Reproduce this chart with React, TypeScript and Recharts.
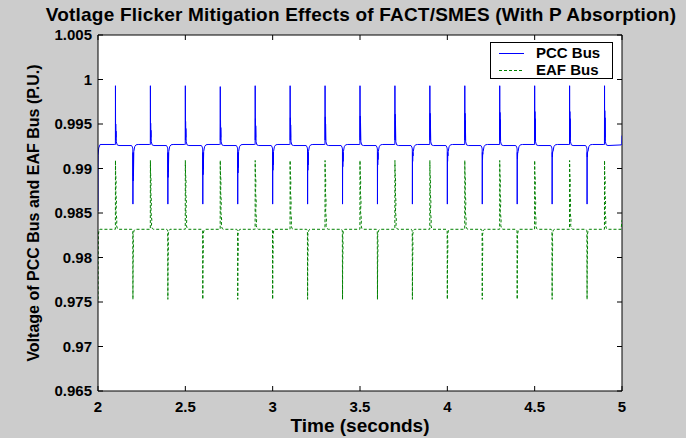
import React from 'react';
import { LineChart, Line, XAxis, YAxis, CartesianGrid, ReferenceLine, Legend } from 'recharts';

// ---------- layout ----------
const W = 686;
const H = 438;
const PLOT = { left: 98, top: 35, right: 622, bottom: 391 };
const FONT = '"Liberation Sans", Arial, Helvetica, sans-serif';

// ---------- axes ----------
const xTicks = [2, 2.5, 3, 3.5, 4, 4.5, 5];
const xTickLabels = ['2', '2.5', '3', '3.5', '4', '4.5', '5'];
const yTicks = [0.965, 0.97, 0.975, 0.98, 0.985, 0.99, 0.995, 1, 1.005];
const yTickLabels = ['0.965', '0.97', '0.975', '0.98', '0.985', '0.99', '0.995', '1', '1.005'];
const seriesNames = ['PCC Bus', 'EAF Bus'];

// ---------- data ----------
const upSpikeTimes = [2.1, 2.3, 2.5, 2.7, 2.9, 3.1, 3.3, 3.5, 3.7, 3.9, 4.1, 4.3, 4.5, 4.7, 4.9];
const downSpikeTimes = [2.2, 2.4, 2.6, 2.8, 3.0, 3.2, 3.4, 3.6, 3.8, 4.0, 4.2, 4.4, 4.6, 4.8];

// PCC bus (blue)
const pccBase = 0.9927;
const pccSag = 0.99258;
const pccStart = 0.9852;
const pccEnd = 0.9937;
const pccPeaks = [0.9993, 0.9993, 0.9993, 0.9992, 0.9993, 0.9993, 0.9993, 0.9993, 0.9993, 0.9993, 0.9993, 0.9993, 0.9993, 0.9993, 0.9993];
const pccPeakRinging = [0.995, 0.9951, 0.9953, 0.9954, 0.9956, 0.9957, 0.9958, 0.9959, 0.9961, 0.9962, 0.9962, 0.9963, 0.9964, 0.9964, 0.9965];
const pccTroughs = [0.986, 0.986, 0.986, 0.986, 0.986, 0.986, 0.986, 0.986, 0.986, 0.986, 0.986, 0.986, 0.986, 0.986];
const pccTroughRinging = [0.9886, 0.989, 0.9893, 0.9895, 0.9898, 0.9898, 0.9902, 0.9904, 0.9908, 0.9908, 0.991, 0.9911, 0.9913, 0.9913];

// EAF bus (green)
const eafBase = 0.98317;
const eafStart = 0.9753;
const eafEnd = 0.9842;
const eafPeaks = [0.9909, 0.9909, 0.9909, 0.9909, 0.9909, 0.9909, 0.9909, 0.9909, 0.9909, 0.9909, 0.9909, 0.9909, 0.9909, 0.9909, 0.9909];
const eafTroughs = [0.9753, 0.9753, 0.9753, 0.9753, 0.9753, 0.9753, 0.9753, 0.9753, 0.9753, 0.9753, 0.9753, 0.9753, 0.9753, 0.9753];

type Pt = { t: number; v: number };

function buildPcc(): Pt[] {
  const pts: Pt[] = [];
  const p = (t: number, v: number) => pts.push({ t, v });
  p(2.0, pccStart);
  p(2.0004, 0.9905);
  p(2.001, 0.9915);
  p(2.004, 0.9923);
  p(2.012, pccBase);
  upSpikeTimes.forEach((T, k) => {
    const P = pccPeaks[k];
    const R = pccPeakRinging[k];
    p(T - 0.004, pccBase);
    p(T - 0.0005, pccBase);
    p(T, P);
    p(T + 0.0008, 0.9932);
    p(T + 0.0015, R);
    p(T + 0.0025, 0.9935);
    p(T + 0.003, R - 0.0008);
    p(T + 0.005, 0.993);
    p(T + 0.01, 0.99265);
    p(T + 0.02, pccSag);
    if (k < downSpikeTimes.length) {
      const D = downSpikeTimes[k];
      const Q = pccTroughs[k];
      const R2 = pccTroughRinging[k];
      p(D - 0.008, pccSag);
      p(D - 0.003, 0.9924);
      p(D - 0.0005, 0.9922);
      p(D, Q);
      p(D + 0.0008, 0.9918);
      p(D + 0.0015, R2);
      p(D + 0.0025, 0.9917);
      p(D + 0.003, R2 + 0.0006);
      p(D + 0.005, 0.9919);
      p(D + 0.01, 0.99245);
      p(D + 0.018, 0.99266);
      p(D + 0.03, pccBase);
    }
  });
  p(4.995, 0.99265);
  p(4.999, 0.9928);
  p(5.0, pccEnd);
  return pts;
}

function buildEaf(): Pt[] {
  const pts: Pt[] = [];
  const p = (t: number, v: number) => pts.push({ t, v });
  p(2.0, eafStart);
  p(2.0008, 0.98);
  p(2.002, 0.9825);
  p(2.006, 0.9831);
  p(2.012, eafBase);
  upSpikeTimes.forEach((T, k) => {
    p(T - 0.003, eafBase);
    p(T - 0.0005, eafBase);
    p(T, eafPeaks[k]);
    p(T + 0.001, 0.9895);
    p(T + 0.004, 0.9885);
    p(T + 0.002, 0.9874);
    p(T + 0.006, 0.9862);
    p(T + 0.003, 0.9852);
    p(T + 0.008, 0.9842);
    p(T + 0.006, 0.9836);
    p(T + 0.011, 0.98325);
    p(T + 0.018, eafBase);
    if (k < downSpikeTimes.length) {
      const D = downSpikeTimes[k];
      p(D - 0.006, eafBase);
      p(D - 0.001, 0.983);
      p(D, eafTroughs[k]);
      p(D + 0.0008, 0.979);
      p(D + 0.003, 0.9815);
      p(D + 0.001, 0.9825);
      p(D + 0.006, 0.983);
      p(D + 0.012, eafBase);
    }
  });
  p(4.995, eafBase);
  p(5.0, eafEnd);
  return pts;
}

const pccData = buildPcc();
const eafData = buildEaf();

// ---------- custom ticks (MATLAB style, inward on all sides) ----------
const XTick = (props: any) => {
  const { x, payload } = props;
  const i = xTicks.indexOf(payload.value);
  return (
    <g>
      <line x1={x} x2={x} y1={PLOT.bottom} y2={PLOT.bottom - 5} stroke="#000" />
      <line x1={x} x2={x} y1={PLOT.top} y2={PLOT.top + 5} stroke="#000" />
      <text x={x} y={PLOT.bottom + 21} textAnchor="middle" fontSize={15} fontWeight="bold" fontFamily={FONT} fill="#000">
        {i >= 0 ? xTickLabels[i] : payload.value}
      </text>
    </g>
  );
};

const YTick = (props: any) => {
  const { y, payload } = props;
  const i = yTicks.findIndex((v) => Math.abs(v - payload.value) < 1e-9);
  return (
    <g>
      <line x1={PLOT.left} x2={PLOT.left + 5} y1={y} y2={y} stroke="#000" />
      <line x1={PLOT.right} x2={PLOT.right - 5} y1={y} y2={y} stroke="#000" />
      <text x={PLOT.left - 6} y={y + 5} textAnchor="end" fontSize={15} fontWeight="bold" fontFamily={FONT} fill="#000">
        {i >= 0 ? yTickLabels[i] : payload.value}
      </text>
    </g>
  );
};

const LegendBox = (props: any) => {
  const raw = props.payload || [];
  const payload = seriesNames
    .map((n) => raw.find((e: any) => e.value === n))
    .filter(Boolean);
  return (
    <div
      style={{
        width: 121,
        height: 35,
        background: '#fff',
        border: '1px solid #000',
        fontFamily: FONT,
        fontWeight: 'bold',
        fontSize: 15,
        position: 'relative',
      }}
    >
      {payload.map((e: any, i: number) => (
        <div key={i} style={{ position: 'absolute', left: 0, top: 2 + i * 17, height: 16, display: 'flex', alignItems: 'center' }}>
          <svg width={40} height={16} style={{ display: 'block' }}>
            <line
              x1={8}
              x2={33}
              y1={8.5}
              y2={8.5}
              stroke={e.color}
              strokeWidth={1}
              strokeDasharray={e.payload && e.payload.strokeDasharray ? e.payload.strokeDasharray : undefined}
            />
          </svg>
          <span style={{ marginLeft: 5, color: '#000', lineHeight: '16px' }}>{e.value}</span>
        </div>
      ))}
    </div>
  );
};

export default function App() {
  return (
    <div
      style={{
        position: 'absolute',
        left: 0,
        top: 0,
        width: W,
        height: H,
        background: '#cccccc',
        fontFamily: FONT,
        overflow: 'hidden',
      }}
    >
      <div
        style={{
          position: 'absolute',
          left: 0,
          width: 722,
          top: 4,
          textAlign: 'center',
          fontSize: 19,
          letterSpacing: 0.2,
          fontWeight: 'bold',
          color: '#000',
          whiteSpace: 'nowrap',
        }}
      >
        Votlage Flicker Mitigation Effects of FACT/SMES (With P Absorption)
      </div>
      <div
        style={{
          position: 'absolute',
          left: 34 - 200,
          top: 213 - 10,
          width: 400,
          height: 20,
          lineHeight: '20px',
          textAlign: 'center',
          fontSize: 16,
          fontWeight: 'bold',
          color: '#000',
          transform: 'rotate(-90deg)',
          whiteSpace: 'nowrap',
        }}
      >
        Voltage of PCC Bus and EAF Bus (P.U.)
      </div>
      <div
        style={{
          position: 'absolute',
          left: PLOT.left,
          width: PLOT.right - PLOT.left,
          top: 416,
          height: 19,
          lineHeight: '19px',
          textAlign: 'center',
          fontSize: 19,
          fontWeight: 'bold',
          color: '#000',
          whiteSpace: 'nowrap',
        }}
      >
        Time (seconds)
      </div>
      <div style={{ position: 'absolute', left: 0, top: 0 }}>
        <LineChart
          width={W}
          height={H}
          margin={{ top: PLOT.top, right: W - PLOT.right, left: 0, bottom: 0 }}
        >
          <CartesianGrid fill="#ffffff" horizontal={false} vertical={false} />
          <XAxis
            dataKey="t"
            type="number"
            domain={[2, 5]}
            ticks={xTicks}
            interval={0}
            allowDataOverflow
            height={H - PLOT.bottom}
            tickSize={0}
            tickMargin={0}
            tickLine={false}
            tick={<XTick />}
            axisLine={{ stroke: '#000' }}
          />
          <YAxis
            type="number"
            domain={[0.965, 1.005]}
            ticks={yTicks}
            interval={0}
            allowDataOverflow
            width={PLOT.left}
            tickSize={0}
            tickMargin={0}
            tickLine={false}
            tick={<YTick />}
            axisLine={{ stroke: '#000' }}
          />
          <ReferenceLine y={1.005} stroke="#000" />
          <ReferenceLine x={5} stroke="#000" />
          <Line
            data={pccData}
            dataKey="v"
            name="PCC Bus"
            type="linear"
            stroke="#0000ff"
            strokeWidth={1}
            dot={false}
            activeDot={false}
            isAnimationActive={false}
          />
          <Line
            data={eafData}
            dataKey="v"
            name="EAF Bus"
            type="linear"
            stroke="#008000"
            strokeWidth={1}
            strokeDasharray="3 2"
            dot={false}
            activeDot={false}
            isAnimationActive={false}
          />
          <Legend
            verticalAlign="middle"
            layout="horizontal"
            content={<LegendBox />}
            wrapperStyle={{ position: 'absolute', left: 490, top: 42, width: 123, height: 37, bottom: 'auto', right: 'auto' }}
          />
        </LineChart>
      </div>
    </div>
  );
}
